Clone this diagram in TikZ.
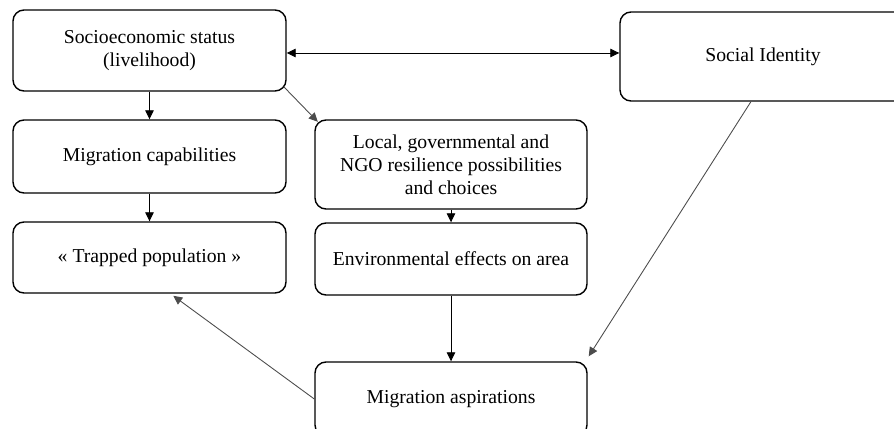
\documentclass[tikz,border=0pt]{standalone}
\usepackage{fontspec}
\setmainfont{Liberation Serif}
\usepackage{tikz}
\usetikzlibrary{arrows.meta,shapes,calc,positioning}
\tikzstyle{roundBox} = [draw, line width=0.8pt, rounded corners=0.22cm, align=center, font=\fontsize{11.2}{13}\selectfont, minimum width=5.46cm, inner sep=2pt]
\tikzstyle{flowArrow} = [line width=0.5pt, -{Triangle[length=1.8mm,width=1.7mm]}]

\begin{document}
\begin{tikzpicture}
				\useasboundingbox (0,0) rectangle (17.88,-8.58);
				% boxes
				\node[roundBox, minimum height=1.62cm] (socio) at (2.99,-1.01) {Socioeconomic status\\ (livelihood)};
				\node[roundBox, minimum width=5.72cm, minimum height=1.78cm] (ident) at (15.26,-1.13) {Social Identity};
				\node[roundBox, minimum height=1.46cm] (migcap) at (2.99,-3.13) {Migration capabilities};
				\node[roundBox, minimum width=5.44cm, minimum height=1.78cm] (local) at (9.02,-3.29) {Local, governmental and\\ NGO resilience possibilities\\ and choices};
				\node[roundBox, minimum height=1.42cm] (trapped) at (2.99,-5.15) {« Trapped population »};
				\node[roundBox, minimum width=5.44cm, minimum height=1.44cm] (env) at (9.02,-5.18) {Environmental effects on area};
				\node[roundBox, minimum width=5.44cm, minimum height=1.48cm] (migasp) at (9.02,-7.98) {Migration aspirations};
				% links
				\draw[flowArrow, {Triangle[length=1.8mm,width=1.7mm]}-{Triangle[length=1.8mm,width=1.7mm]}] ([yshift=-0.05cm]socio.east) -- ([yshift=-0.05cm]socio.east -| ident.west);
				\draw[flowArrow] (socio.south) -- (migcap.north);
				\draw[flowArrow, draw=black!70] ([shift={(-0.06,0.1)}]socio.south east) -- ([shift={(0.07,-0.05)}]local.north west);
				\draw[flowArrow] (migcap.south) -- (trapped.north);
				\draw[flowArrow] (local.south) -- (env.north);
				\draw[flowArrow] (env.south) -- (migasp.north);
				\draw[flowArrow, draw=black!70] (ident.255) -- ([shift={(0.02,0.1)}]migasp.north east);
				\draw[flowArrow, draw=black!70, shorten >=2pt] (migasp.west) -- (trapped.-60);
				\end{tikzpicture}
\end{document}
